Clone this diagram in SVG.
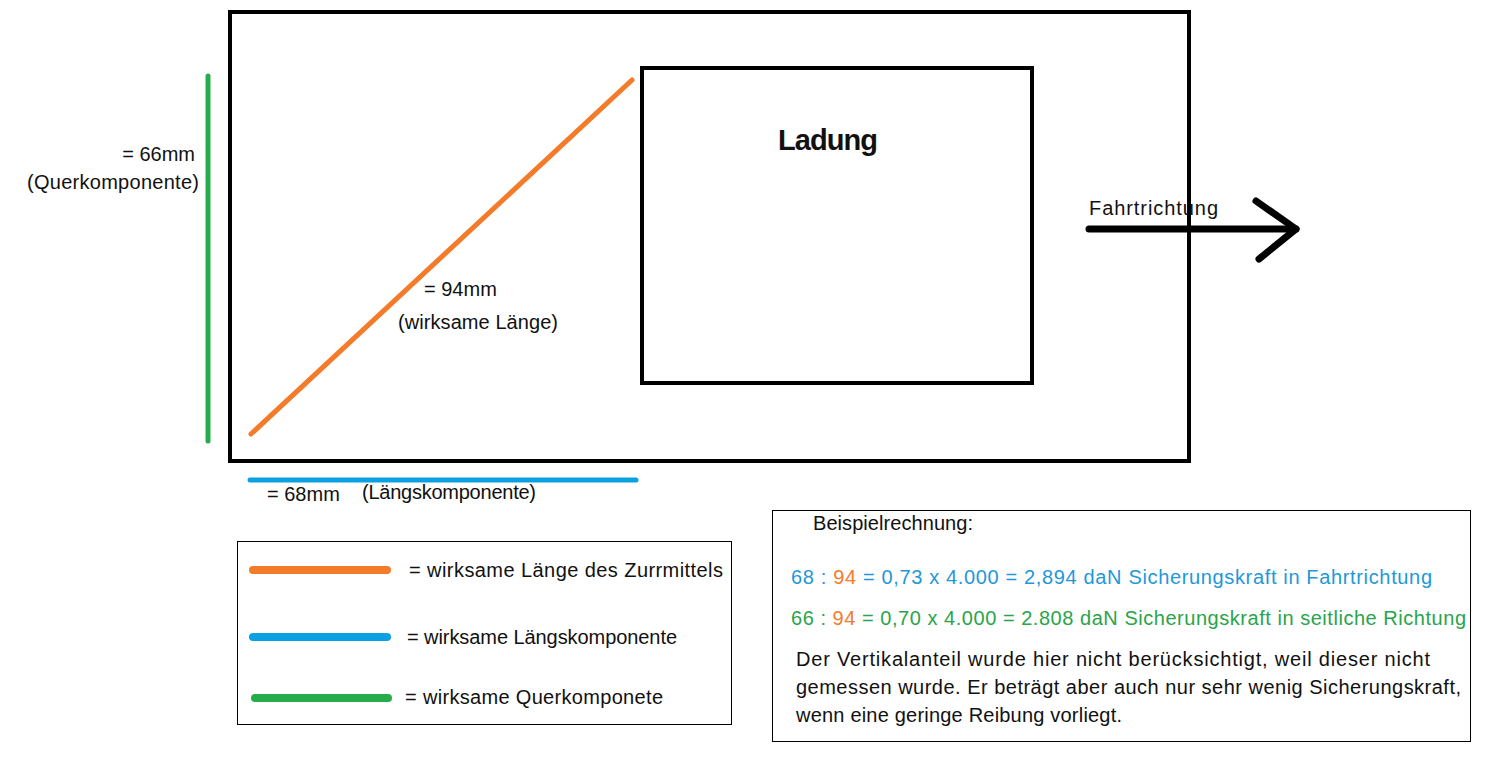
<svg xmlns="http://www.w3.org/2000/svg" width="1499" height="760" viewBox="0 0 1499 760">
<style>
text{font-family:"Liberation Sans",Arial,sans-serif;fill:#111;font-size:20px}
text.title{font-size:29px;font-weight:bold}
.box{fill:none;stroke:#000}
.or{stroke:#f47b2a;stroke-linecap:round;fill:none}
.bl{stroke:#0aa0e2;stroke-linecap:round;fill:none}
.gr{stroke:#24ad4a;stroke-linecap:round;fill:none}
.tb{fill:#1f98d8}.to{fill:#f47b2a}.tg{fill:#2aa44a}
</style>
<rect width="1499" height="760" fill="#fff"/>
<g id="vehicle"><rect class="box" x="230" y="12" width="959" height="449" stroke-width="4"/></g>
<g id="ladung"><rect class="box" x="642" y="68" width="390" height="315" stroke-width="4"/>
<text class="title" x="778" y="150" textLength="100">Ladung</text></g>
<g id="connectors">
<line class="or" x1="251" y1="434" x2="632" y2="80" stroke-width="5"/>
<line class="gr" x1="208" y1="76" x2="208" y2="441" stroke-width="5"/>
<line class="bl" x1="250" y1="480" x2="636" y2="480" stroke-width="5"/>
<g stroke="#000" stroke-width="7" stroke-linecap="round" fill="none">
<line x1="1089" y1="229" x2="1296" y2="229"/>
<polyline points="1256,201 1296,229 1259,259" stroke-linejoin="round"/>
</g>
</g>
<g id="labels">
<text x="195" y="161" text-anchor="end">= 66mm</text>
<text x="27" y="189" textLength="172">(Querkomponente)</text>
<text x="424" y="296">= 94mm</text>
<text x="398" y="329" textLength="160">(wirksame Länge)</text>
<text x="267" y="501">= 68mm</text>
<text x="362" y="499" textLength="174">(Längskomponente)</text>
<text x="1089" y="215" textLength="129">Fahrtrichtung</text>
</g>
<g id="legend">
<rect class="box" x="237.5" y="541.5" width="494" height="183" stroke-width="1"/>
<line class="or" x1="253" y1="570" x2="387" y2="570" stroke-width="8"/>
<line class="bl" x1="253" y1="637" x2="387" y2="637" stroke-width="8"/>
<line class="gr" x1="255" y1="698" x2="388" y2="698" stroke-width="8"/>
<text x="409" y="577" textLength="314">= wirksame Länge des Zurrmittels</text>
<text x="407" y="644" textLength="270">= wirksame Längskomponente</text>
<text x="405" y="704" textLength="258">= wirksame Querkomponete</text>
</g>
<g id="calculation">
<rect class="box" x="772.5" y="510.5" width="698" height="231" stroke-width="1"/>
<text x="813" y="530" textLength="160">Beispielrechnung:</text>
<text x="791" y="584" textLength="641"><tspan class="tb">68 : </tspan><tspan class="to">94</tspan><tspan class="tb"> = 0,73 x 4.000 = 2,894 daN Sicherungskraft in Fahrtrichtung</tspan></text>
<text x="791" y="625" textLength="675"><tspan class="tg">66 : </tspan><tspan class="to">94</tspan><tspan class="tg"> = 0,70 x 4.000 = 2.808 daN Sicherungskraft in seitliche Richtung</tspan></text>
<text x="796" y="666" textLength="634">Der Vertikalanteil wurde hier nicht berücksichtigt, weil dieser nicht</text>
<text x="796" y="694" textLength="665">gemessen wurde. Er beträgt aber auch nur sehr wenig Sicherungskraft,</text>
<text x="796" y="722" textLength="326">wenn eine geringe Reibung vorliegt.</text>
</g>
</svg>
